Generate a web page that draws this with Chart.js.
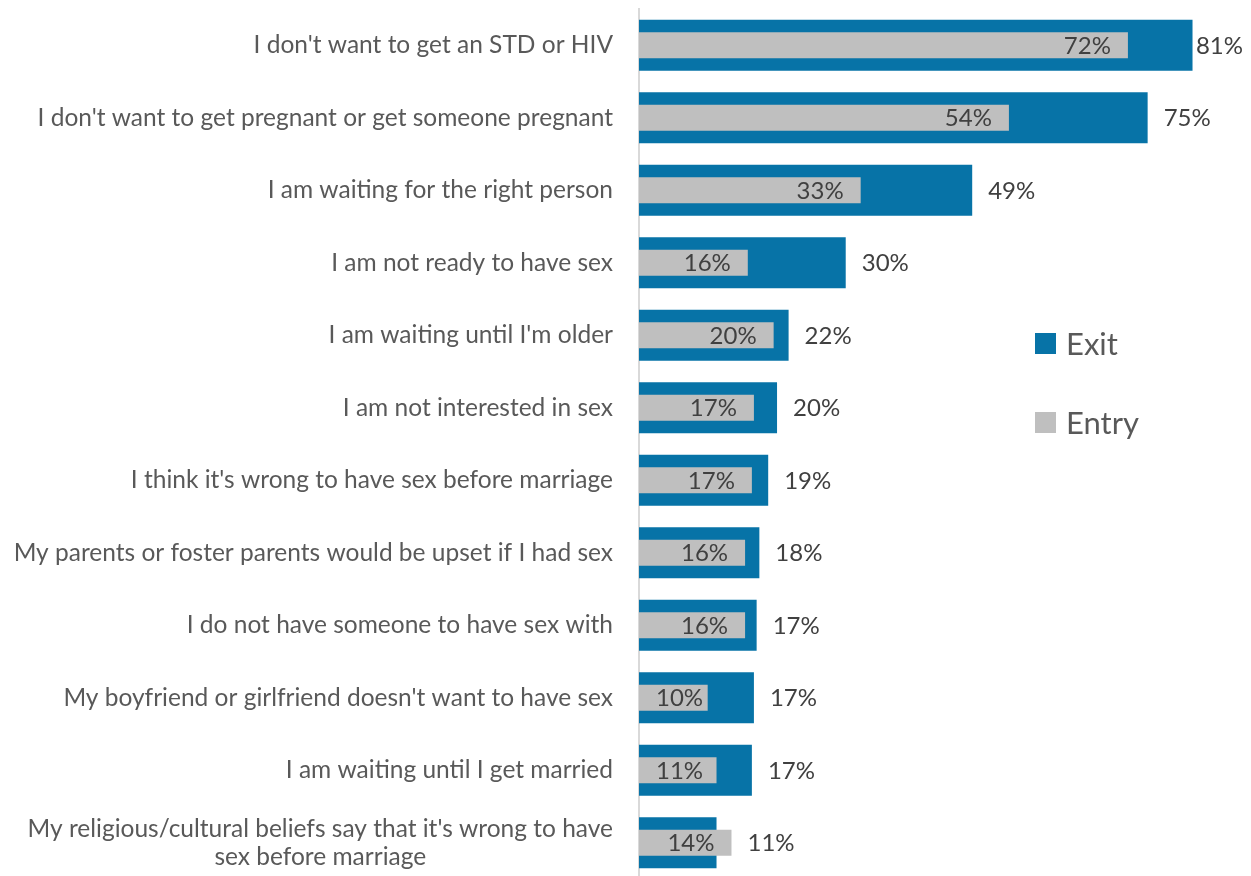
<!DOCTYPE html>
<html><head><meta charset="utf-8">
<script src="https://cdn.jsdelivr.net/npm/chart.js@4.4.0/dist/chart.umd.min.js"></script>
<style>html,body{margin:0;padding:0;background:#fff;overflow:hidden}</style>
</head><body>
<canvas id="c" width="1251" height="879"></canvas>
<script>
const categories = [
  ["I don't want to get an STD or HIV"],
  ["I don't want to get pregnant or get someone pregnant"],
  ["I am waiting for the right person"],
  ["I am not ready to have sex"],
  ["I am waiting until I'm older"],
  ["I am not interested in sex"],
  ["I think it's wrong to have sex before marriage"],
  ["My parents or foster parents would be upset if I had sex"],
  ["I do not have someone to have sex with"],
  ["My boyfriend or girlfriend doesn't want to have sex"],
  ["I am waiting until I get married"],
  ["My religious/cultural beliefs say that it's wrong to have", "sex before marriage"]
];
const exitValues  = [81.4, 74.8, 49.0, 30.4, 22.0, 20.3, 19.0, 17.7, 17.3, 16.9, 16.6, 11.4];
const entryValues = [71.9, 54.4, 32.6, 16.0, 19.8, 16.9, 16.6, 15.6, 15.6, 10.1, 11.4, 13.6];
const seriesNames = ["Exit", "Entry"];

const BLUE = '#0773A7', GRAY = '#BFBFBF';
const FONT = 'Lato';
const CAT_SIZE = 24.5;
const VAL_SIZE = 24;

const fmt = v => Math.round(v) + '%';

const labelPlugin = {
  id: 'labels',
  afterDatasetsDraw(chart) {
    const ctx = chart.ctx;
    const y = chart.scales.y, x = chart.scales.x;
    const x0 = x.getPixelForValue(0);
    ctx.save();
    ctx.textBaseline = 'middle';
    // category labels
    ctx.font = CAT_SIZE + 'px ' + FONT;
    ctx.fillStyle = '#595959';
    const rightX = 613;
    const lh = 28;
    categories.forEach((lines, i) => {
      const cy = y.getPixelForValue(i);
      const widths = lines.map(l => ctx.measureText(l).width);
      const maxW = Math.max(...widths);
      const cx = rightX - maxW / 2;
      ctx.textAlign = 'center';
      lines.forEach((l, j) => {
        const ly = cy + (j - (lines.length - 1) / 2) * lh;
        ctx.fillText(l, cx, ly);
      });
    });
    // value labels
    ctx.font = VAL_SIZE + 'px ' + FONT;
    ctx.fillStyle = '#404040';
    ctx.textAlign = 'left';
    exitValues.forEach((v, i) => {
      const cy = y.getPixelForValue(i);
      const eEnd = x.getPixelForValue(entryValues[i]);
      const xEnd = x.getPixelForValue(v);
      const entryTxt = fmt(entryValues[i]);
      const ew = ctx.measureText(entryTxt).width;
      const ex = Math.max(eEnd - 17 - ew, x0 + 17);
      ctx.fillText(entryTxt, ex, cy + 1);
      const exitTxt = fmt(v);
      const w = ctx.measureText(exitTxt).width;
      let lx = Math.max(xEnd, eEnd) + 16;
      lx = Math.min(lx, chart.width - w - 8);
      ctx.fillText(exitTxt, lx, cy + 1);
    });
    ctx.restore();
  }
};

const legendPlugin = {
  id: 'customLegend',
  afterDraw(chart) {
    const ctx = chart.ctx;
    ctx.save();
    ctx.font = '31px ' + FONT;
    ctx.textBaseline = 'middle';
    ctx.textAlign = 'left';
    const items = [{name: seriesNames[0], color: BLUE, y: 343.5}, {name: seriesNames[1], color: GRAY, y: 422.5}];
    items.forEach(it => {
      ctx.fillStyle = it.color;
      ctx.fillRect(1035, it.y - 10.5, 21, 21);
      ctx.fillStyle = '#595959';
      ctx.fillText(it.name, 1066, it.y + 1);
    });
    ctx.restore();
  }
};

new Chart(document.getElementById('c'), {
  type: 'bar',
  data: {
    labels: categories,
    datasets: [
      { label: seriesNames[1], data: entryValues, backgroundColor: GRAY, barPercentage: 0.36, categoryPercentage: 1, grouped: false },
      { label: seriesNames[0], data: exitValues, backgroundColor: BLUE, barPercentage: 0.705, categoryPercentage: 1, grouped: false }
    ]
  },
  options: {
    indexAxis: 'y',
    responsive: false,
    animation: false,
    devicePixelRatio: 1,
    layout: { padding: { top: 9, bottom: 0, left: 0, right: 0 } },
    plugins: { legend: { display: false }, tooltip: { enabled: false } },
    scales: {
      x: { display: false, min: 0, max: 90 },
      y: {
        display: true,
        ticks: { display: false },
        grid: { display: false },
        border: { display: true, color: '#D9D9D9', width: 2 },
        afterFit(scale) { scale.width = 639; }
      }
    }
  },
  plugins: [labelPlugin, legendPlugin]
});
</script>
</body></html>
